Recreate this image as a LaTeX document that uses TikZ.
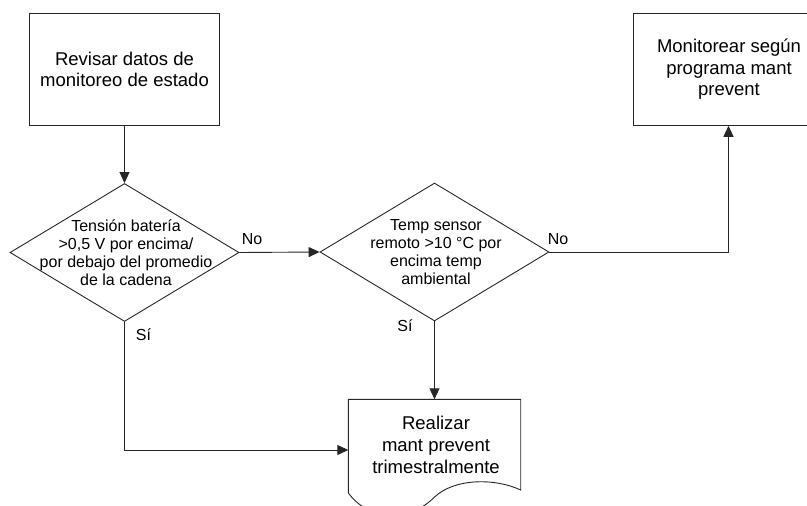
\documentclass[tikz,border=0pt]{standalone}
\usepackage{fontspec}
\setmainfont{Liberation Sans}
\usetikzlibrary{shapes.geometric,arrows.meta}
\begin{document}
\begin{tikzpicture}[x=1pt,y=-1pt,
  line/.style={draw=black!85, line width=0.9pt},
  arr/.style={line, -{Triangle[length=11pt,width=10pt]}},
  boxtxt/.style={font=\fontsize{18.5}{21.7}\selectfont, align=center},
  dtxt/.style={font=\fontsize{16}{18}\selectfont, align=center},
  lbl/.style={font=\fontsize{16}{18}\selectfont, inner sep=0},
  procbox/.style={line, rectangle, inner sep=0, minimum width=190pt, minimum height=112pt},
  decision/.style={line, diamond, inner sep=0, minimum width=229pt, minimum height=138pt}
]
\useasboundingbox (0,0) rectangle (807,506);
\clip (0,0) rectangle (807,506);

% process boxes
\node[procbox] (b1) at (124.5,69.3) {};
\node[boxtxt] (t1) at (124.5,69.3) {Revisar datos de\\monitoreo de estado};
\node[procbox] (b2) at (728.5,69.3) {};
\node[boxtxt] (t2) at (729,69.3) {Monitorear según\\programa mant\\prevent};

% decisions
\node[decision] (d1) at (124.5,252.5) {};
\node[dtxt] (t3) at (126,252.5) {Tensión batería\\>0,5 V por encima/\\por debajo del promedio\\de la cadena};
\node[decision] (d2) at (434.5,252) {};
\node[dtxt] (t4) at (436,252) {Temp sensor\\remoto >10 °C por\\encima temp\\ambiental};

% document shape
\coordinate (dTL) at (348.3,399.3);
\coordinate (dTR) at (520.7,399.3);
\coordinate (dBR) at (520.7,490);
\coordinate (dBL) at (348.3,493);
\coordinate (dM) at (434.5,497);
\coordinate (docT) at (434.5,399.3);
\coordinate (docL) at (348.3,450);
\draw[line] (dTL) -- (dTR) -- (dBR)
  .. controls (495,478) and (455,478) .. (dM)
  .. controls (410,522) and (370,522) .. (dBL) -- cycle;
\node[boxtxt] (t5) at (436,445) {Realizar\\mant prevent\\trimestralmente};

% connectors
\draw[arr] (b1.south) -- (d1.north);
\draw[arr] (d1.east) -- (d2.west);
\draw[arr] (d2.east) -| (b2.south);
\draw[arr] (d1.south) |- (docL);
\draw[arr] (d2.south) -- (docT);

% labels
\node[lbl] (no1) at (252,239) {No};
\node[lbl] (no2) at (558,239) {No};
\node[lbl] (si1) at (143.5,335) {Sí};
\node[lbl] (si2) at (405,326) {Sí};
\end{tikzpicture}
\end{document}
